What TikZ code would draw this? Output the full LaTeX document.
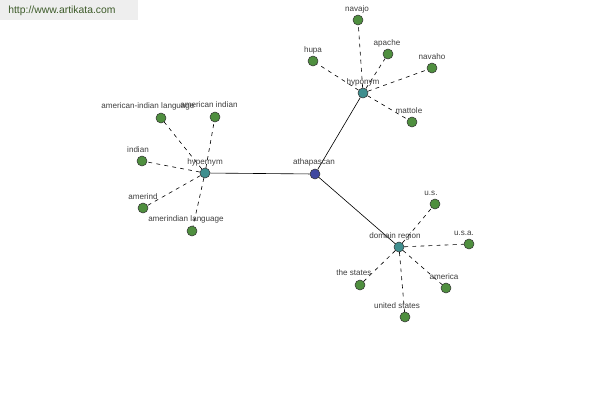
\documentclass[tikz,border=0pt]{standalone}
\usepackage{fontspec}
\setmainfont{Liberation Sans}
\usepackage{tikz}

\definecolor{leafgreen}{HTML}{4F8F3F}
\definecolor{hubteal}{HTML}{3F8F8F}
\definecolor{rootblue}{HTML}{4048A0}
\definecolor{textgrey}{HTML}{404040}
\definecolor{markgreen}{HTML}{3C5A28}
\definecolor{markback}{HTML}{EEEEEE}

\begin{document}
\begin{tikzpicture}[x=0.02cm, y=-0.02cm,
    leaf/.style={circle, draw=black!80, fill=leafgreen, line width=0.3pt, minimum size=0.2cm, inner sep=0pt},
    hub/.style={circle, draw=black!80, fill=hubteal, line width=0.3pt, minimum size=0.2cm, inner sep=0pt},
    root/.style={circle, draw=black!80, fill=rootblue, line width=0.3pt, minimum size=0.2cm, inner sep=0pt},
    txt/.style={text=textgrey, inner sep=0pt, font=\fontsize{4.6}{5}\selectfont},
    rel/.style={line width=0.35pt, dash pattern=on 2.2pt off 2.4pt},
    link/.style={line width=0.35pt}]
    \useasboundingbox[fill=white] (0,0) rectangle (600,400);
    \fill[markback] (0,0) rectangle (138,20);
    \node[right, text=markgreen, inner sep=0pt, font=\fontsize{5.9}{6}\selectfont] (mark) at (8,11) {http://www.artikata.com};
    % centre and hubs
    \node[root] (athapascan) at (315,174) {};
    \node[hub] (hypernym) at (205,173) {};
    \node[hub] (hyponym) at (363,93) {};
    \node[hub] (domain) at (399,247) {};
    \draw[link] (hypernym) -- (athapascan);
    \draw[link] (hyponym) -- (athapascan);
    \draw[link] (domain) -- (athapascan);
    % hypernym leaves
    \node[leaf] (amil) at (161,118) {};
    \node[leaf] (ami) at (215,117) {};
    \node[leaf] (indian) at (142,161) {};
    \node[leaf] (amerind) at (143,208) {};
    \node[leaf] (amerlang) at (192,231) {};
    \draw[rel] (hypernym) -- (amil);
    \draw[rel] (hypernym) -- (ami);
    \draw[rel] (hypernym) -- (indian);
    \draw[rel] (hypernym) -- (amerind);
    \draw[rel] (hypernym) -- (amerlang);
    % hyponym leaves
    \node[leaf] (navajo) at (358,20) {};
    \node[leaf] (apache) at (388,54) {};
    \node[leaf] (hupa) at (313,61) {};
    \node[leaf] (navaho) at (432,68) {};
    \node[leaf] (mattole) at (412,122) {};
    \draw[rel] (hyponym) -- (navajo);
    \draw[rel] (hyponym) -- (apache);
    \draw[rel] (hyponym) -- (hupa);
    \draw[rel] (hyponym) -- (navaho);
    \draw[rel] (hyponym) -- (mattole);
    % domain region leaves
    \node[leaf] (us) at (435,204) {};
    \node[leaf] (usa) at (469,244) {};
    \node[leaf] (states) at (360,285) {};
    \node[leaf] (america) at (446,288) {};
    \node[leaf] (united) at (405,317) {};
    \draw[rel] (domain) -- (us);
    \draw[rel] (domain) -- (usa);
    \draw[rel] (domain) -- (states);
    \draw[rel] (domain) -- (america);
    \draw[rel] (domain) -- (united);
    % labels
    \node[txt] (l-athapascan) at (314,162) {athapascan};
    \node[txt] (l-hypernym) at (205,162) {hypernym};
    \node[txt] (l-hyponym) at (363,82) {hyponym};
    \node[txt] (l-domain) at (395,236) {domain region};
    \node[txt] (l-amil) at (148,106) {american-indian language};
    \node[txt] (l-ami) at (209,105) {american indian};
    \node[txt] (l-indian) at (138,150) {indian};
    \node[txt] (l-amerind) at (143,197) {amerind};
    \node[txt] (l-amerlang) at (186,219) {amerindian language};
    \node[txt] (l-navajo) at (357,9) {navajo};
    \node[txt] (l-apache) at (387,43) {apache};
    \node[txt] (l-hupa) at (313,50) {hupa};
    \node[txt] (l-navaho) at (432,57) {navaho};
    \node[txt] (l-mattole) at (409,111) {mattole};
    \node[txt] (l-us) at (431,193) {u.s.};
    \node[txt] (l-usa) at (464,233) {u.s.a.};
    \node[txt] (l-states) at (354,273) {the states};
    \node[txt] (l-america) at (444,277) {america};
    \node[txt] (l-united) at (397,306) {united states};
\end{tikzpicture}
\end{document}
